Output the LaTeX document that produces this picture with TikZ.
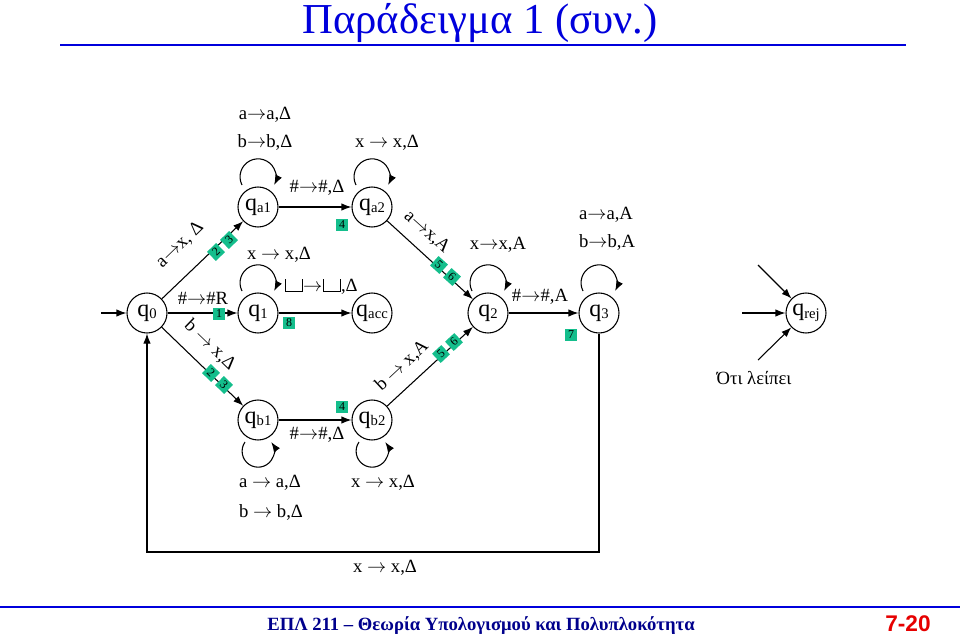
\documentclass[tikz,border=0pt]{standalone}
\usepackage{fontspec}
\setmainfont{Liberation Serif}
\newfontfamily\arialfont{Liberation Sans}
\usetikzlibrary{arrows.meta}
\definecolor{tgreen}{RGB}{20,190,140}
\definecolor{ttitle}{RGB}{0,0,220}
\definecolor{tfoot}{RGB}{0,0,140}
\definecolor{tred}{RGB}{230,0,0}
\newcommand\blanksym{\kern0.5pt\rule{0.6pt}{1.5ex}\rule{0.85em}{0.6pt}\rule{0.6pt}{1.5ex}\kern0.5pt}
\newcommand\stlab[1]{q\raisebox{-2pt}{\fontsize{11}{11}\selectfont #1}}
\newcommand\ra{$\rightarrow$}
\tikzset{
  st/.style={circle, draw, line width=0.8pt, minimum size=30pt, inner sep=0pt, font=\fontsize{18}{18}\selectfont},
  arr/.style={line width=0.8pt, -{Latex[length=7.5pt,width=5.5pt]}},
  lbl/.style={font=\fontsize{14}{14}\selectfont, inner sep=0pt},
  num/.style={fill=tgreen, inner sep=0pt, minimum size=9.5pt, font=\fontsize{9}{9}\selectfont},
}
\begin{document}
\begin{tikzpicture}[x=0.75pt,y=0.75pt]
\useasboundingbox (0,0) rectangle (960,-640);
% title
\node[font=\fontsize{32}{32}\selectfont, text=ttitle, inner sep=0pt, anchor=base] (title) at (480,-33) {Παράδειγμα 1 (συν.)};
\draw[ttitle, line width=2.2pt] (60,-45) -- (906,-45);
% footer
\draw[ttitle, line width=1.4pt] (0,-607) -- (960,-607);
\node[font=\fontsize{14}{14}\selectfont\bfseries, text=tfoot, inner sep=0pt] (foot) at (481,-626) {ΕΠΛ 211 – Θεωρία Υπολογισμού και Πολυπλοκότητα};
\node[font=\fontsize{17}{17}\selectfont\bfseries\arialfont, text=tred, inner sep=0pt] (page) at (908,-624) {7-20};

% states
\node[st] (q0) at (147,-313) {\stlab{0}};
\node[st] (qa1) at (258,-207) {\stlab{a1}};
\node[st] (qa2) at (372,-207) {\stlab{a2}};
\node[st] (q1) at (258,-313) {\stlab{1}};
\node[st] (qacc) at (372,-313) {\stlab{acc}};
\node[st] (qb1) at (258,-420) {\stlab{b1}};
\node[st] (qb2) at (372,-420) {\stlab{b2}};
\node[st] (q2) at (488,-313) {\stlab{2}};
\node[st] (q3) at (599,-313) {\stlab{3}};
\node[st] (qrej) at (806,-313) {\stlab{rej}};

% start arrow
\coordinate (s0) at (101,-313);
\draw[arr] (s0) -- (q0);

% transitions
\draw[arr] (q0) -- (qa1);
\draw[arr] (q0) -- (q1);
\draw[arr] (q0) -- (qb1);
\draw[arr] (qa1) -- (qa2);
\draw[arr] (q1) -- (qacc);
\draw[arr] (qb1) -- (qb2);
\draw[arr] (qa2) -- (q2);
\draw[arr] (qb2) -- (q2);
\draw[arr] (q2) -- (q3);
\coordinate (c1) at (599,-552);
\coordinate (c2) at (147,-552);
\draw[arr] (q3.south) -- (c1) -- (c2) -- (q0.south);

% loops above
\foreach \n in {qa1,qa2,q1,q2,q3}{
  \draw[arr] ([shift={(-16,22)}]\n.center) arc[start angle=207,end angle=-27,radius=18];
}
% loops below
\foreach \n in {qb1,qb2}{
  \draw[arr] ([shift={(-13,-22)}]\n.center) arc[start angle=145,end angle=395,radius=16];
}

% rejection arrows
\coordinate (r1) at (758,-265);
\coordinate (r2) at (742,-313);
\coordinate (r3) at (758,-360);
\draw[arr] (r1) -- (qrej);
\draw[arr] (r2) -- (qrej);
\draw[arr] (r3) -- (qrej);
\node[lbl] (miss) at (754,-378) {Ότι λείπει};

% labels
\node[lbl] (l1) at (265,-115) {a\ra a,Δ};
\node[lbl] (l2) at (265,-142) {b\ra b,Δ};
\node[lbl] (l3) at (387,-143) {x \ra{} x,Δ};
\node[lbl] (l4) at (317,-188) {\#\ra\#,Δ};
\node[lbl] (l5) at (279,-255) {x \ra{} x,Δ};
\node[lbl] (l6) at (321,-287) {\blanksym\ra\blanksym,Δ};
\node[lbl] (l7) at (203,-298) {\#\ra\#R};
\node[lbl] (l8) at (270,-483) {a \ra{} a,Δ};
\node[lbl] (l9) at (271,-512) {b \ra{} b,Δ};
\node[lbl] (l10) at (383,-483) {x \ra{} x,Δ};
\node[lbl] (l11) at (317,-435) {\#\ra\#,Δ};
\node[lbl] (l12) at (498,-245) {x\ra x,A};
\node[lbl] (l13) at (540,-297) {\#\ra\#,A};
\node[lbl] (l14) at (606,-215) {a\ra a,A};
\node[lbl] (l15) at (607,-242) {b\ra b,A};
\node[lbl] (l16) at (385,-568) {x \ra{} x,Δ};
\node[lbl, rotate=44] (l17) at (180,-245) {a\ra x, Δ};
\node[lbl, rotate=-44] (l18) at (210,-345) {b \ra{} x,Δ};
\node[lbl, rotate=-42] (l19) at (427,-232) {a\ra x,A};
\node[lbl, rotate=43] (l20) at (402,-366) {b \ra{} x,A};

% numbered boxes
\node[num] (n1) at (219,-314) {1};
\node[num, rotate=44] (n2a) at (216,-252) {2};
\node[num, rotate=44] (n3a) at (229,-240) {3};
\node[num, rotate=-44] (n2b) at (211,-373) {2};
\node[num, rotate=-44] (n3b) at (224,-385) {3};
\node[num] (n4a) at (342,-225) {4};
\node[num] (n4b) at (342,-407) {4};
\node[num] (n8) at (289,-323) {8};
\node[num, rotate=-42] (n5a) at (439,-265) {5};
\node[num, rotate=-42] (n6a) at (452,-277) {6};
\node[num, rotate=43] (n5b) at (441,-354) {5};
\node[num, rotate=43] (n6b) at (454,-342) {6};
\node[num] (n7) at (571,-335) {7};
\end{tikzpicture}
\end{document}
